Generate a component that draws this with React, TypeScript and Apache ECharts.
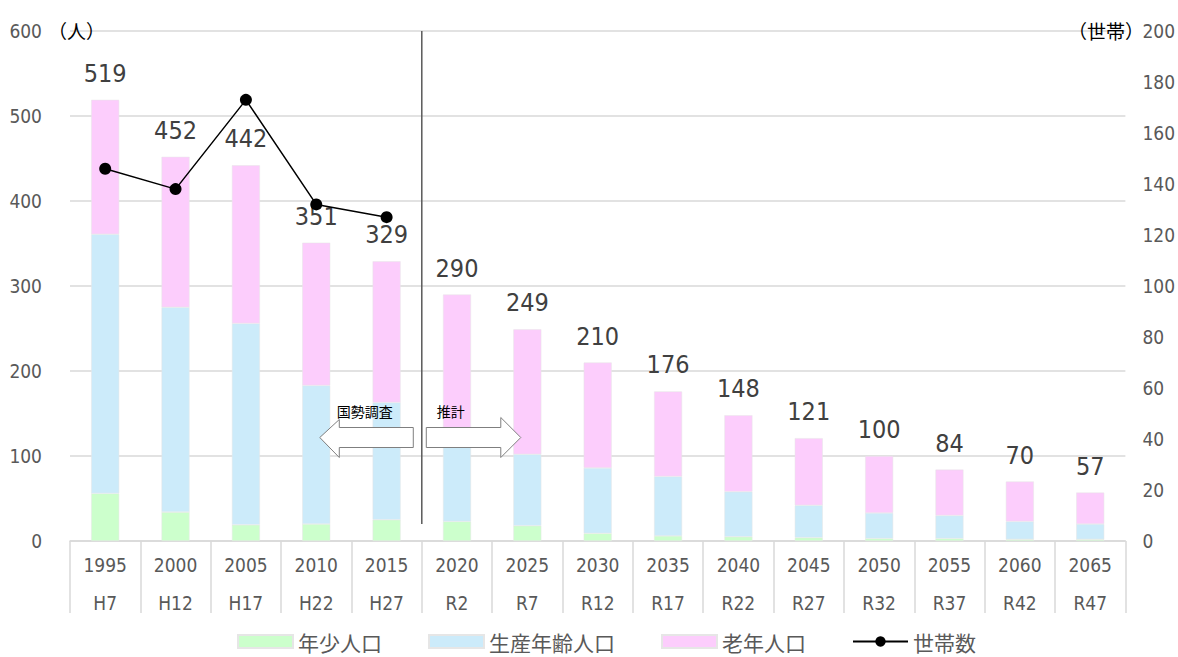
import React, { useEffect, useRef } from "react";
import * as echarts from "echarts";

const categories = ["1995", "2000", "2005", "2010", "2015", "2020", "2025", "2030", "2035", "2040", "2045", "2050", "2055", "2060", "2065"];
const eras = ["H7", "H12", "H17", "H22", "H27", "R2", "R7", "R12", "R17", "R22", "R27", "R32", "R37", "R42", "R47"];
const young = [56, 34, 19, 20, 25, 23, 18, 9, 6, 5, 4, 3, 3, 2, 2];
const working = [305, 241, 237, 163, 138, 99, 84, 77, 70, 53, 38, 30, 27, 21, 18];
const elderly = [158, 177, 186, 168, 166, 168, 147, 124, 100, 90, 79, 67, 54, 47, 37];
const totals = [519, 452, 442, 351, 329, 290, 249, 210, 176, 148, 121, 100, 84, 70, 57];
const households = [146, 138, 173, 132, 127, null, null, null, null, null, null, null, null, null, null];
const leftTicks = { min: 0, max: 600, interval: 100 };
const rightTicks = { min: 0, max: 200, interval: 20 };

const NUM_FONT = "'Liberation Sans Narrow', 'DejaVu Sans Condensed', 'Noto Sans CJK JP', sans-serif";
const JP_FONT = "'Noto Sans CJK JP', sans-serif";

export default function App() {
  const ref = useRef<HTMLDivElement>(null);
  useEffect(() => {
    if (!ref.current) return;
    const chart = echarts.init(ref.current, null, { renderer: "svg" });
    const barBase = {
      type: "bar",
      stack: "pop",
      barWidth: 28,
      itemStyle: { borderColor: "#e6e6e6", borderWidth: 0.5 },
    };
    chart.setOption({
      animation: false,
      backgroundColor: "#ffffff",
      grid: { left: 70, right: 52, top: 31, bottom: 116, containLabel: false },
      legend: {
        bottom: 0,
        left: 232,
        itemWidth: 55,
        itemHeight: 13,
        itemGap: 46,
        textStyle: { fontFamily: JP_FONT, fontSize: 21, color: "#595959" },
        data: [
          { name: "年少人口", icon: "rect" },
          { name: "生産年齢人口", icon: "rect" },
          { name: "老年人口", icon: "rect" },
          { name: "世帯数" },
        ],
      },
      xAxis: {
        type: "category",
        data: categories,
        axisLine: { lineStyle: { color: "#d9d9d9", width: 1.5 } },
        axisTick: { show: true, length: 72, interval: 0, lineStyle: { color: "#d9d9d9", width: 1.5 } },
        axisLabel: {
          interval: 0,
          margin: 5,
          fontFamily: NUM_FONT,
          fontSize: 19,
          color: "#595959",
          lineHeight: 38,
          formatter: (v: string, i: number) => v + "\n" + eras[i],
        },
      },
      yAxis: [
        {
          type: "value",
          ...leftTicks,
          axisLine: { show: false },
          axisTick: { show: false },
          splitLine: { lineStyle: { color: "#d9d9d9", width: 1.5 } },
          axisLabel: { margin: 28, fontFamily: NUM_FONT, fontSize: 19, color: "#595959" },
        },
        {
          type: "value",
          ...rightTicks,
          axisLine: { show: false },
          axisTick: { show: false },
          splitLine: { show: false },
          axisLabel: { margin: 17, fontFamily: NUM_FONT, fontSize: 19, color: "#595959" },
        },
      ],
      series: [
        { ...barBase, name: "年少人口", data: young, itemStyle: { ...barBase.itemStyle, color: "#CCFFCC" } },
        { ...barBase, name: "生産年齢人口", data: working, itemStyle: { ...barBase.itemStyle, color: "#CCEBFA" } },
        {
          ...barBase,
          name: "老年人口",
          data: elderly,
          itemStyle: { ...barBase.itemStyle, color: "#FCCDFC" },
          label: {
            show: true,
            position: "top",
            distance: 14,
            fontFamily: NUM_FONT,
            fontSize: 25,
            color: "#404040",
            formatter: (p: any) => String(totals[p.dataIndex]),
          },
        },
        {
          type: "line",
          name: "世帯数",
          yAxisIndex: 1,
          data: households,
          symbol: "circle",
          symbolSize: 12,
          lineStyle: { color: "#000000", width: 1.5 },
          itemStyle: { color: "#000000" },
          z: 5,
        },
      ],
    });

    const x4 = chart.convertToPixel({ xAxisIndex: 0 }, 4) as number;
    const x5 = chart.convertToPixel({ xAxisIndex: 0 }, 5) as number;
    const divX = (x4 + x5) / 2;
    const yTop = chart.convertToPixel({ yAxisIndex: 0 }, 600) as number;
    const yLow = chart.convertToPixel({ yAxisIndex: 0 }, 20) as number;
    const cy = 437.5;

    chart.setOption({
      graphic: [
        {
          type: "line",
          shape: { x1: divX, y1: yTop, x2: divX, y2: yLow },
          style: { stroke: "#595959", lineWidth: 1.5 },
          z: 10,
        },
        {
          type: "polygon",
          shape: {
            points: [
              [divX - 102, cy],
              [divX - 82.5, cy - 18],
              [divX - 82.5, cy - 10],
              [divX - 8.5, cy - 10],
              [divX - 8.5, cy + 10],
              [divX - 82.5, cy + 10],
              [divX - 82.5, cy + 20],
            ],
          },
          style: { fill: "#ffffff", stroke: "#7f7f7f", lineWidth: 1 },
          z: 10,
        },
        {
          type: "polygon",
          shape: {
            points: [
              [divX + 4.5, cy - 10],
              [divX + 79, cy - 10],
              [divX + 79, cy - 20],
              [divX + 99, cy],
              [divX + 79, cy + 20],
              [divX + 79, cy + 10],
              [divX + 4.5, cy + 10],
            ],
          },
          style: { fill: "#ffffff", stroke: "#7f7f7f", lineWidth: 1 },
          z: 10,
        },
        {
          type: "text",
          x: divX - 85,
          y: 411,
          style: { text: "国勢調査", font: "14px " + JP_FONT, fill: "#000000", verticalAlign: "middle", align: "left" },
          z: 11,
        },
        {
          type: "text",
          x: divX + 15,
          y: 411,
          style: { text: "推計", font: "14px " + JP_FONT, fill: "#000000", verticalAlign: "middle", align: "left" },
          z: 11,
        },
        {
          type: "text",
          x: 48,
          y: 30,
          style: { text: "（人）", font: "19px " + JP_FONT, fill: "#000000", verticalAlign: "middle", align: "left" },
          z: 11,
        },
        {
          type: "text",
          x: 1068,
          y: 30,
          style: { text: "（世帯）", font: "19px " + JP_FONT, fill: "#000000", verticalAlign: "middle", align: "left" },
          z: 11,
        },
      ],
    });

    return () => chart.dispose();
  }, []);

  return <div ref={ref} style={{ position: "fixed", left: 0, top: 0, width: 1178, height: 657 }} />;
}
